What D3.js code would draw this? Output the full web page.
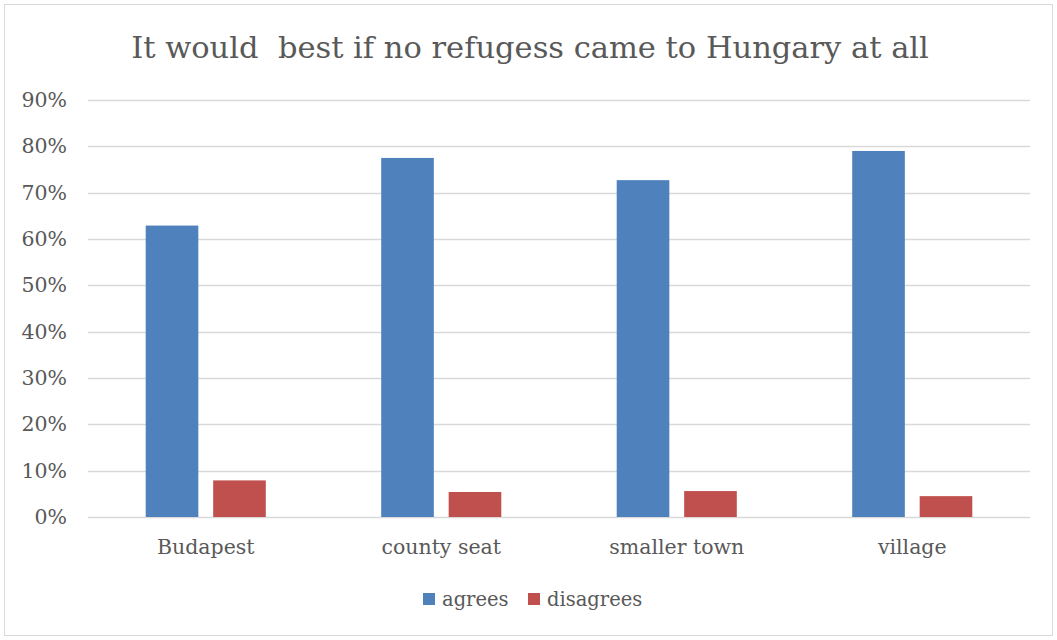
<!DOCTYPE html>
<html>
<head>
<meta charset="utf-8">
<script src="https://cdn.jsdelivr.net/npm/d3@7"></script>
<style>
  body { margin: 0; background: #fff; }
  text { font-family: "DejaVu Serif", serif; fill: #595959; }
</style>
</head>
<body>
<div id="chart"></div>
<script>
// values
var categories = ["Budapest", "county seat", "smaller town", "village"];
var seriesNames = ["agrees", "disagrees"];
var agrees = [0.629, 0.775, 0.727, 0.790];
var disagrees = [0.079, 0.054, 0.056, 0.045];
var yTicks = [0, 0.1, 0.2, 0.3, 0.4, 0.5, 0.6, 0.7, 0.8, 0.9];
var colors = ["#4f81bd", "#c0504d"];
var title = "It would  best if no refugess came to Hungary at all";

var W = 1057, H = 640;
var margin = {top: 100, right: 27, bottom: 123, left: 88};
var width = W - margin.left - margin.right,
    height = H - margin.top - margin.bottom;

var svg = d3.select("#chart").append("svg")
  .attr("width", W).attr("height", H);

// outer chart frame
svg.append("rect")
  .attr("x", 4.5).attr("y", 4.5)
  .attr("width", W - 9).attr("height", H - 9)
  .attr("fill", "#fff").attr("stroke", "#d9d9d9");

var g = svg.append("g")
  .attr("transform", "translate(" + margin.left + "," + margin.top + ")");

var y = d3.scaleLinear().domain([0, 0.9]).range([height, 0]);
var x0 = d3.scaleBand().domain(categories).range([0, width]).paddingInner(0).paddingOuter(0);
var x1 = d3.scaleBand().domain(seriesNames).range([57.7, x0.bandwidth() - 57.7]).paddingInner(0.22);

// gridlines
g.selectAll(".grid").data(yTicks).enter().append("line")
  .attr("x1", 0).attr("x2", width)
  .attr("y1", function(d) { return Math.round(y(d)) + 0.5; })
  .attr("y2", function(d) { return Math.round(y(d)) + 0.5; })
  .attr("stroke", "#d9d9d9").attr("stroke-width", 1.5);

// y axis labels
var yAxis = d3.axisLeft(y).tickValues(yTicks).tickFormat(d3.format(".0%")).tickSize(0).tickPadding(21);
g.append("g").call(yAxis)
  .call(function(a) { a.select(".domain").remove(); })
  .selectAll("text")
  .style("font-size", "20.5px").attr("fill", "#595959");

// x axis labels
var xAxis = d3.axisBottom(x0).tickSize(0).tickPadding(22);
g.append("g").attr("transform", "translate(0," + height + ")").call(xAxis)
  .call(function(a) { a.select(".domain").remove(); })
  .selectAll("text")
  .style("font-size", "20.5px").attr("fill", "#595959");

// bars
var rows = categories.map(function(c, i) {
  return {cat: c, vals: [agrees[i], disagrees[i]]};
});
var grp = g.selectAll(".cat").data(rows).enter().append("g")
  .attr("transform", function(d) { return "translate(" + x0(d.cat) + ",0)"; });
grp.selectAll("rect").data(function(d) {
    return d.vals.map(function(v, j) { return {s: seriesNames[j], v: v, j: j}; });
  }).enter().append("rect")
  .attr("x", function(d) { return x1(d.s); })
  .attr("width", x1.bandwidth())
  .attr("y", function(d) { return y(d.v); })
  .attr("height", function(d) { return height - y(d.v); })
  .attr("fill", function(d) { return colors[d.j]; });

// title (keeps the double space)
svg.append("text")
  .attr("x", 530).attr("y", 58)
  .attr("text-anchor", "middle")
  .style("font-size", "30.5px")
  .style("white-space", "pre")
  .text(title);

// legend
var legend = svg.append("g").attr("transform", "translate(423,593)");
var lx = [0, 105];
seriesNames.forEach(function(s, i) {
  legend.append("rect").attr("x", lx[i]).attr("y", 0).attr("width", 12).attr("height", 12).attr("fill", colors[i]);
  legend.append("text").attr("x", lx[i] + 19).attr("y", 13).style("font-size", "19.5px").text(s);
});
</script>
</body>
</html>
